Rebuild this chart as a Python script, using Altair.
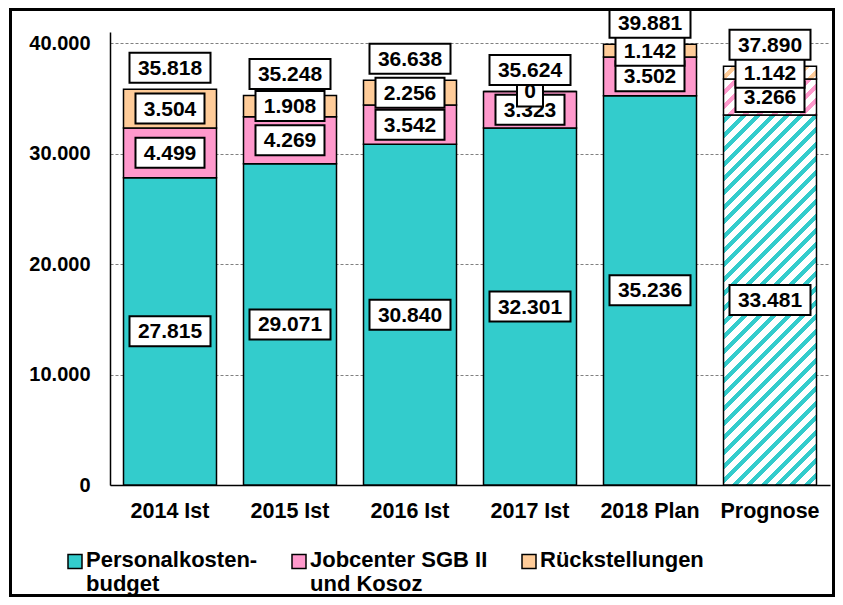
import math
import altair as alt
import pandas as pd

categories = ["2014 Ist", "2015 Ist", "2016 Ist", "2017 Ist", "2018 Plan", "Prognose"]
series = ["Personalkosten-\nbudget", "Jobcenter SGB II\nund Kosoz", "Rückstellungen"]
personal = [27815, 29071, 30840, 32301, 35236, 33481]
jobcenter = [4499, 4269, 3542, 3323, 3502, 3266]
rueck = [3504, 1908, 2256, 0, 1142, 1142]
totals = [35818, 35248, 36638, 35624, 39881, 37890]
colors = ["#33CCCC", "#FF99CC", "#FFCC99"]

FONT = "Liberation Sans"
W, H = 720, 453
YMAX = 41000
PAD_IN = 0.225
BAR_W = W / len(categories) * (1 - PAD_IN)


def de(v):
    return f"{v:,}".replace(",", ".")


rows = []
for i, c in enumerate(categories):
    base = 0
    for k, (s, vals) in enumerate(zip(series, [personal, jobcenter, rueck])):
        v = vals[i]
        rows.append(dict(cat=c, series=s, k=k, start=base, end=base + v,
                         mid=base + v / 2, label=de(v), nch=len(de(v))))
        base += v
df = pd.DataFrame(rows)
tot = pd.DataFrame(dict(cat=categories, total=totals,
                        label=[de(v) for v in totals],
                        nch=[len(de(v)) for v in totals]))

xenc = alt.X("cat:N", sort=categories, title=None,
             scale=alt.Scale(paddingInner=PAD_IN, paddingOuter=PAD_IN / 2),
             axis=alt.Axis(labelAngle=0, ticks=False, labelFont=FONT,
                           labelFontSize=21.5, labelFontWeight="bold",
                           labelColor="black", labelPadding=15,
                           domainColor="black", domainWidth=1.5))
yscale = alt.Scale(domain=[0, YMAX], nice=False, zero=True)

# legend square shifted down so it sits beside the first label line
SYM = 14
shift = 11.5 / (SYM / 2)
sym_path = f"M-1,{-1 + shift:.3f}L1,{-1 + shift:.3f}L1,{1 + shift:.3f}L-1,{1 + shift:.3f}Z"

base = alt.Chart(df)

bars = base.transform_filter(alt.datum.cat != "Prognose").mark_bar(
    stroke="black", strokeWidth=1.5).encode(
    x=xenc,
    y=alt.Y("start:Q", scale=yscale, title=None,
            axis=alt.Axis(values=[0, 10000, 20000, 30000, 40000], ticks=False,
                          labelExpr="replace(format(datum.value, ',d'), ',', '.')",
                          labelFont=FONT, labelFontSize=20, labelFontWeight="bold",
                          labelColor="black", labelPadding=20,
                          domainColor="black", domainWidth=1.5,
                          grid=True, gridColor="#808080", gridDash=[3, 2],
                          gridWidth=1)),
    y2="end:Q",
    color=alt.Color("series:N", sort=series,
                    scale=alt.Scale(domain=series, range=colors),
                    legend=alt.Legend(title=None, orient="none", direction="horizontal",
                                      legendX=-46, legendY=507,
                                      symbolType=sym_path, symbolSize=SYM * SYM,
                                      symbolStrokeColor="black", symbolStrokeWidth=1.5,
                                      labelFont=FONT, labelFontSize=22,
                                      labelFontWeight="bold", labelColor="black",
                                      labelBaseline="top", labelOffset=0,
                                      columnPadding=30, labelLimit=400,
                                      labelExpr="length(split(datum.label, '\\n')) > 1 ? split(datum.label, '\\n') : [datum.label, ' ']")),
    order=alt.Order("k:Q"),
)

# hatched Prognose segments (diagonal stripes via hard-stop gradients)
P = 14.4
FRAC = 0.42
hatch_layers = []
prog_i = categories.index("Prognose")
for k, (s, vals) in enumerate(zip(series, [personal, jobcenter, rueck])):
    start = sum(v[prog_i] for v in [personal, jobcenter, rueck][:k])
    end = start + vals[prog_i]
    hpx = max((end - start) / YMAX * H, 0.5)
    ytop = (YMAX - end) / YMAX * H
    r = BAR_W / hpx
    kk = (r + 1) / (r * r + 1)
    L = BAR_W + hpx
    stops = []
    phase = ytop % P
    g = -phase
    while g < L:
        a = max(g, 0) / L
        b = min(max(g + FRAC * P, 0), L) / L
        c = min(g + P, L) / L
        if g + FRAC * P > 0:
            stops += [dict(offset=a, color=colors[k]), dict(offset=b, color=colors[k])]
        stops += [dict(offset=b, color="white"), dict(offset=c, color="white")]
        g += P
    grad = dict(gradient="linear", x1=0, y1=0, x2=kk * r, y2=kk, stops=stops)
    hatch_layers.append(
        base.transform_filter((alt.datum.cat == "Prognose") & (alt.datum.k == k))
        .mark_bar(fill=grad, stroke="black", strokeWidth=1.5)
        .encode(x=alt.X("cat:N", sort=categories), y=alt.Y("start:Q", scale=yscale),
                y2="end:Q")
    )

box_w = {1: 26, 5: 69, 6: 81}
SIZE = 81
HH = 15 / (SIZE / 2)
paths = [f"M{-w / SIZE:.4f},{-HH:.4f}L{w / SIZE:.4f},{-HH:.4f}L{w / SIZE:.4f},{HH:.4f}L{-w / SIZE:.4f},{HH:.4f}Z"
         for w in box_w.values()]
shape_enc = alt.Shape("nch:O", scale=alt.Scale(domain=list(box_w.keys()), range=paths), legend=None)

label_layers = []
for k, s in enumerate(series):
    d = base.transform_filter(alt.datum.k == k)
    label_layers.append(d.mark_point(filled=True, fill="white", stroke="black",
                                     strokeWidth=2, size=SIZE * SIZE, opacity=1).encode(
        x=alt.X("cat:N", sort=categories), y=alt.Y("mid:Q", scale=yscale), shape=shape_enc))
    label_layers.append(d.mark_text(font=FONT, fontSize=21, fontWeight="bold",
                                    color="black", baseline="middle", dy=1).encode(
        x=alt.X("cat:N", sort=categories), y=alt.Y("mid:Q", scale=yscale), text="label:N"))

tbase = alt.Chart(tot)
label_layers.append(tbase.mark_point(filled=True, fill="white", stroke="black",
                                     strokeWidth=2, size=SIZE * SIZE, opacity=1,
                                     yOffset=-21.5).encode(
    x=alt.X("cat:N", sort=categories), y=alt.Y("total:Q", scale=yscale), shape=shape_enc))
label_layers.append(tbase.mark_text(font=FONT, fontSize=21, fontWeight="bold",
                                    color="black", baseline="middle", dy=-20.5).encode(
    x=alt.X("cat:N", sort=categories), y=alt.Y("total:Q", scale=yscale), text="label:N"))

border = alt.Chart(pd.DataFrame({"a": [0]})).mark_rect(
    fill="transparent", stroke="black", strokeWidth=3).encode(
    x=alt.value(-99.5), x2=alt.value(723.5), y=alt.value(-22.5), y2=alt.value(563.5))

chart = alt.layer(bars, *hatch_layers, *label_layers, border).properties(
    width=W, height=H,
    padding={"left": 102, "top": 24, "right": 5, "bottom": 112},
    autosize=alt.AutoSizeParams(type="none"),
    background="white",
).configure_view(stroke=None)

chart.save("out.html", embed_options={"renderer": "svg", "actions": False})
